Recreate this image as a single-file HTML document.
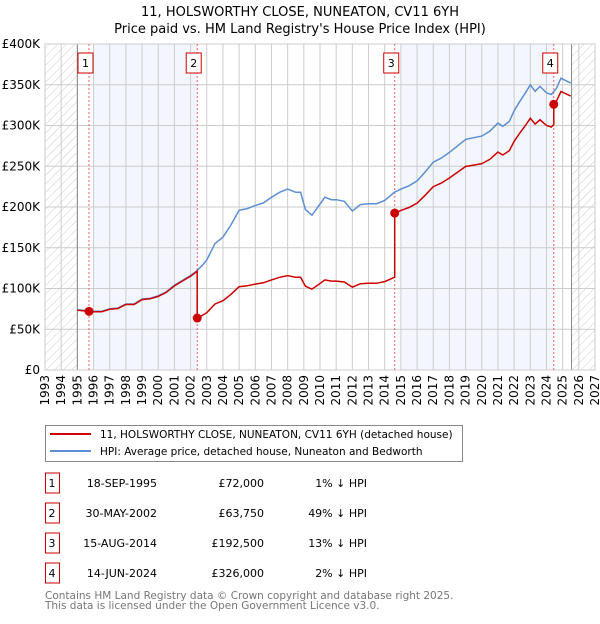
<!DOCTYPE html>
<html><head><meta charset="utf-8"><style>
body{margin:0;background:#fff;font-family:"DejaVu Sans","Liberation Sans",sans-serif;}
svg text{font-family:"DejaVu Sans","Liberation Sans",sans-serif;}
</style></head><body>
<svg id="c" width="600" height="620" xmlns="http://www.w3.org/2000/svg">
<defs><pattern id="h" width="6" height="6" patternUnits="userSpaceOnUse" patternTransform="rotate(45)"><line x1="0" y1="0" x2="0" y2="6" stroke="#ccc" stroke-width="1"/></pattern></defs>
<text x="300" y="16" text-anchor="middle" font-size="13">11, HOLSWORTHY CLOSE, NUNEATON, CV11 6YH</text>
<text x="300" y="33" text-anchor="middle" font-size="13">Price paid vs. HM Land Registry's House Price Index (HPI)</text>
<g id="plot"></g>
<g>
<rect x="45.5" y="425.5" width="417" height="36" fill="#fff" stroke="#888"/>
<line x1="50" y1="434" x2="91" y2="434" stroke="#cc0000" stroke-width="2"/>
<text x="100" y="438" font-size="10.5">11, HOLSWORTHY CLOSE, NUNEATON, CV11 6YH (detached house)</text>
<line x1="50" y1="451" x2="91" y2="451" stroke="#5b8fd4" stroke-width="2"/>
<text x="100" y="455" font-size="10.5">HPI: Average price, detached house, Nuneaton and Bedworth</text>
</g>
<g id="tbl" font-size="11"></g>
<text x="45" y="599" font-size="10.5" fill="#777">Contains HM Land Registry data © Crown copyright and database right 2025.</text>
<text x="45" y="609" font-size="10.5" fill="#777">This data is licensed under the Open Government Licence v3.0.</text>
</svg>
<script>
const hpiT=[1995.0,1995.5,1996,1996.5,1997,1997.5,1998,1998.5,1999,1999.5,2000,2000.5,2001,2001.5,2002,2002.4,2002.7,2003,2003.5,2004,2004.5,2005,2005.5,2006,2006.5,2007,2007.5,2008,2008.5,2008.8,2009.1,2009.5,2009.8,2010.3,2010.7,2011,2011.5,2012,2012.5,2013,2013.5,2014,2014.6,2015,2015.5,2016,2016.5,2017,2017.5,2018,2018.5,2019,2019.5,2020,2020.5,2021,2021.3,2021.7,2022,2022.3,2022.7,2023,2023.3,2023.6,2024,2024.3,2024.6,2024.9,2025.2,2025.5];
const hpiV=[74,73,72,72,75,76,81,81,87,88,91,96,104,110,116,122,128,135,155,163,178,196,198,202,205,212,218,222,218,218,197,190,198,212,209,209,207,195,203,204,204,208,218,222,226,232,243,255,260,267,275,283,285,287,293,303,299,305,318,328,340,350,342,348,340,338,345,358,355,352];
const saleLabels=["1","2","3","4"];
const saleT=[1995.72,2002.41,2014.62,2024.45];
const saleV=[72,63.75,192.5,326];
const saleDates=["18-SEP-1995","30-MAY-2002","15-AUG-2014","14-JUN-2024"];
const salePrices=["£72,000","£63,750","£192,500","£326,000"];
const salePct=["1% ↓ HPI","49% ↓ HPI","13% ↓ HPI","2% ↓ HPI"];
const yTicks=[0,50,100,150,200,250,300,350,400];
const yTickLabels=["£0","£50K","£100K","£150K","£200K","£250K","£300K","£350K","£400K"];
const xYears=[1993,1994,1995,1996,1997,1998,1999,2000,2001,2002,2003,2004,2005,2006,2007,2008,2009,2010,2011,2012,2013,2014,2015,2016,2017,2018,2019,2020,2021,2022,2023,2024,2025,2026,2027];
const X0=45,X1=595,Y0=370,Y1=44;
const xs=t=>X0+(t-1993)*(X1-X0)/34;
const ys=v=>Y0-v*(Y0-Y1)/400;
const NS="http://www.w3.org/2000/svg";
const g=document.getElementById('plot');
function mk(tag,a,parent){const e=document.createElementNS(NS,tag);for(const k in a)e.setAttribute(k,a[k]);(parent||g).appendChild(e);return e;}
function hpiAt(t){for(let i=1;i<hpiT.length;i++){if(t<=hpiT[i]){const f=(t-hpiT[i-1])/(hpiT[i]-hpiT[i-1]);return hpiV[i-1]+f*(hpiV[i]-hpiV[i-1]);}}return hpiV[hpiV.length-1];}
let b=mk('rect',{x:xs(1996),y:Y1,width:xs(2002.41)-xs(1996),height:Y0-Y1,fill:'#f3f6fd'});


b=mk('rect',{x:xs(2015),y:Y1,width:xs(2024.45)-xs(2015),height:Y0-Y1,fill:'#f3f6fd'});


b=mk('rect',{x:X0,y:Y1,width:xs(1995)-X0,height:Y0-Y1,fill:'url(#h)'});


b=mk('rect',{x:xs(2025.55),y:Y1,width:X1-xs(2025.55),height:Y0-Y1,fill:'url(#h)'});


yTicks.forEach((v,i)=>{
 const l=mk('line',{x1:X0,x2:X1,y1:ys(v),y2:ys(v),stroke:'#ccc','stroke-width':1});
 
 
 const t=mk('text',{x:40,y:ys(v)+4,'text-anchor':'end','font-size':12});
 t.textContent=yTickLabels[i];
 
 
});
xYears.forEach(y=>{
 const l=mk('line',{x1:xs(y),x2:xs(y),y1:Y1,y2:Y0,stroke:'#ccc','stroke-width':1});
 
 
 const t=mk('text',{x:0,y:0,'font-size':12,'text-anchor':'end',transform:`translate(${xs(y)+4},375) rotate(-90)`});
 t.textContent=y;
 
 
});
let fl=mk('line',{x1:xs(1995),x2:xs(1995),y1:Y1,y2:Y0,stroke:'#888'});


fl=mk('line',{x1:xs(2025.55),x2:xs(2025.55),y1:Y1,y2:Y0,stroke:'#888'});


const fr=mk('rect',{x:X0,y:Y1,width:X1-X0,height:Y0-Y1,fill:'none',stroke:'#ccc'});


saleT.forEach((t,i)=>{
 const l=mk('line',{x1:xs(t),x2:xs(t),y1:Y1,y2:Y0,stroke:'#f06060','stroke-dasharray':'2,2'});
 
 
 const r=mk('rect',{x:xs(t)-11,y:53,width:15,height:20,fill:'#fff',stroke:'#cc0000'});
 
 
 const tx=mk('text',{x:xs(t)-3.5,y:67,'text-anchor':'middle','font-size':11});
 tx.textContent=saleLabels[i];
 
 
});
const hp=mk('path',{d:hpiT.map((t,i)=>(i?'L':'M')+xs(t).toFixed(1)+','+ys(hpiV[i]).toFixed(1)).join(''),fill:'none',stroke:'#5b8fd4','stroke-width':1.5});


let pts=[];
for(let s=0;s<saleT.length;s++){
 const r=saleV[s]/hpiAt(saleT[s]);
 const start=s===0?1995:saleT[s];
 const end=s+1<saleT.length?saleT[s+1]:2025.5;
 pts.push([start,hpiAt(start)*r]);
 hpiT.forEach((t,i)=>{if(t>start&&t<end)pts.push([t,hpiV[i]*r]);});
 pts.push([end,hpiAt(end)*r]);
}
const pp=mk('path',{d:pts.map((p,i)=>(i?'L':'M')+xs(p[0]).toFixed(1)+','+ys(p[1]).toFixed(1)).join(''),fill:'none',stroke:'#cc0000','stroke-width':1.5});


saleT.forEach((t,i)=>{
 const c=mk('circle',{cx:xs(t),cy:ys(saleV[i]),r:4.5,fill:'#cc0000'});
 
 
});
const tb=document.getElementById('tbl');
saleT.forEach((t,i)=>{
 const yc=483+i*30;
 const r=mk('rect',{x:45.5,y:yc-10,width:14,height:20,fill:'#fff',stroke:'#cc0000'},tb);
 
 
 const cells=[[52,'middle',saleLabels[i],'table-marker-label'],[157,'end',saleDates[i],'table-date'],[264,'end',salePrices[i],'table-price'],[367,'end',salePct[i],'table-hpi-diff']];
 cells.forEach(c=>{
  const e=mk('text',{x:c[0],y:yc+4,'text-anchor':c[1]},tb);
  e.textContent=c[2];
  
  
 });
});
</script>
</body></html>
